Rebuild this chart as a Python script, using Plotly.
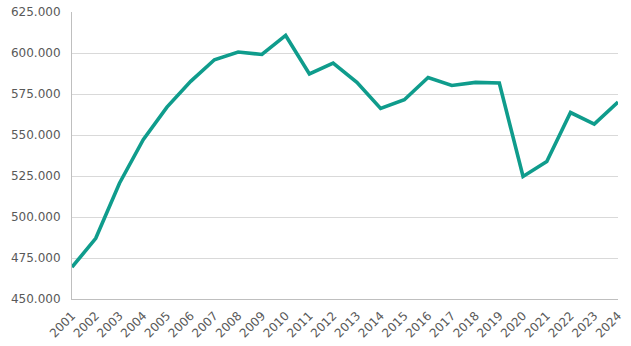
import plotly.graph_objects as go

years = list(range(2001, 2025))
values = [469400, 487000, 520600, 547100, 567000, 582700, 595900, 600600, 599100,
          610700, 587200, 593900, 582100, 566200, 571500, 585100, 580200, 582100,
          581700, 524700, 533800, 563700, 556600, 570100]
year_labels = [str(y) for y in years]

fig = go.Figure()
fig.add_trace(go.Scatter(
    x=years, y=values, mode="lines",
    line=dict(color="#0f9c8c", width=3.6),
    hoverinfo="skip",
))

fig.update_layout(
    width=631, height=346,
    margin=dict(l=72, r=13, t=12, b=47),
    paper_bgcolor="white", plot_bgcolor="white",
    separators=",.",
    showlegend=False,
    font=dict(family="DejaVu Sans", size=12, color="#595959"),
)
fig.update_xaxes(
    range=[2001, 2024], tickmode="array", tickvals=years, ticktext=year_labels,
    tickangle=-45, showgrid=False, showline=True, linecolor="#bfbfbf", linewidth=1,
    ticks="", zeroline=False, tickfont=dict(size=12, color="#595959"),
    automargin=False, ticklabelstandoff=4,
)
fig.update_yaxes(
    range=[450000, 625000], dtick=25000, tick0=450000, tickformat=",.0f",
    showgrid=True, gridcolor="#d9d9d9", gridwidth=1,
    showline=True, linecolor="#bfbfbf", linewidth=1, ticks="", zeroline=False,
    tickfont=dict(size=12, color="#595959"), ticklabelstandoff=8,
    automargin=False,
)

fig.write_html("out.html", config={"displayModeBar": False},
               post_script="document.body.style.margin='0';document.body.style.overflow='hidden';")
